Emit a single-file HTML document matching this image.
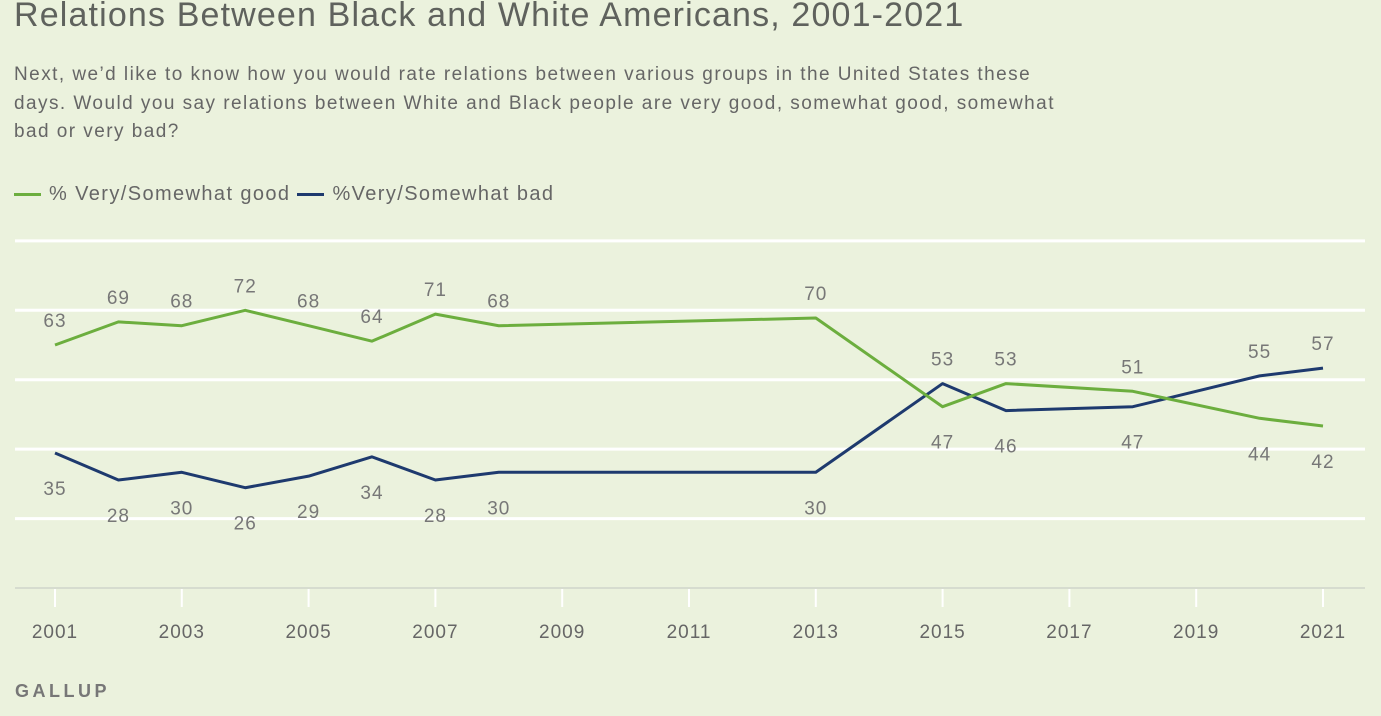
<!DOCTYPE html>
<html><head><meta charset="utf-8"><style>
html,body{margin:0;padding:0;background:#ebf2dd;}
body{width:1381px;height:716px;overflow:hidden;position:relative;font-family:"Liberation Sans",sans-serif;color:#666;}
#title{position:absolute;left:14px;top:-4px;font-size:34px;letter-spacing:1.15px;color:#5f625d;white-space:nowrap;}
#sub{position:absolute;left:14px;top:61px;font-size:19px;letter-spacing:1.45px;line-height:28.5px;color:#666;white-space:nowrap;}
#legend{position:absolute;left:14px;top:183px;font-size:20px;letter-spacing:1.4px;color:#666;white-space:nowrap;}
.sw{display:inline-block;width:27px;height:3px;vertical-align:middle;margin-right:8px;}
#gallup{position:absolute;left:15px;top:681px;font-size:18px;letter-spacing:3.5px;color:#777;font-weight:bold;}
svg{position:absolute;left:0;top:0;}
</style></head><body>
<div id="title">Relations Between Black and White Americans, 2001-2021</div>
<div id="sub">Next, we’d like to know how you would rate relations between various groups in the United States these<br>days. Would you say relations between White and Black people are very good, somewhat good, somewhat<br>bad or very bad?</div>
<div id="legend"><span><span class="sw" style="background:#6cae3e"></span>% Very/Somewhat good</span>&nbsp;<span><span class="sw" style="background:#1e3a6e"></span>%Very/Somewhat bad</span></div>
<div id="gallup">GALLUP</div>
<svg id="chart" width="1381" height="716"></svg>
<script>
const years=[2001,2002,2003,2004,2005,2006,2007,2008,2013,2015,2016,2018,2020,2021];
const good=[63,69,68,72,68,64,71,68,70,47,53,51,44,42];
const bad=[35,28,30,26,29,34,28,30,30,53,46,47,55,57];
const gridVals=[18,36,54,72,90];
const tickYears=[2001,2003,2005,2007,2009,2011,2013,2015,2017,2019,2021];
const NS='http://www.w3.org/2000/svg';
const svg=document.getElementById('chart');
const x=y=>55+(y-2001)*(1323-55)/20;
const yv=v=>588-v*3.857;
function el(t,a){const e=document.createElementNS(NS,t);for(const k in a)e.setAttribute(k,a[k]);svg.appendChild(e);return e;}
gridVals.forEach(v=>{const l=el('line',{x1:15,x2:1365,y1:yv(v),y2:yv(v),stroke:'#fff','stroke-width':3});

});
const base=el('line',{x1:15,x2:1365,y1:588,y2:588,stroke:'#d6dccf','stroke-width':2});


tickYears.forEach(t=>{const tk=el('line',{x1:x(t),x2:x(t),y1:589,y2:607,stroke:'#fff','stroke-width':2});


const tx=el('text',{x:x(t),y:638,'text-anchor':'middle','font-size':19,'letter-spacing':1,fill:'#666','font-family':'Liberation Sans, sans-serif'});
tx.textContent=t;

});
function series(vals,color,name,other){
 const p=el('polyline',{points:years.map((y,i)=>x(y)+','+yv(vals[i])).join(' '),fill:'none',stroke:color,'stroke-width':3,'stroke-linejoin':'round'});
 
 
 years.forEach((y,i)=>{const above=vals[i]>=other[i];
  const t=el('text',{x:x(y),y:yv(vals[i])+(above?-18:42),'text-anchor':'middle','font-size':19,'letter-spacing':1,fill:'#777','font-family':'Liberation Sans, sans-serif'});
  t.textContent=vals[i];
  
  });
}
series(bad,'#1e3a6e','bad',good);
series(good,'#6cae3e','good',bad);
</script>
</body></html>
